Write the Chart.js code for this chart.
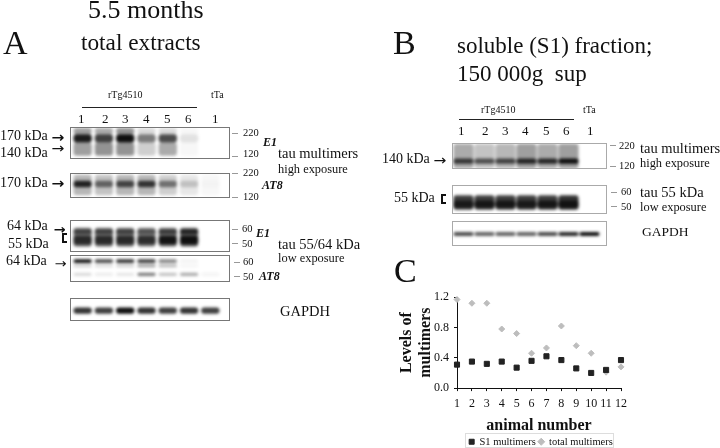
<!DOCTYPE html>
<html>
<head>
<meta charset="utf-8">
<script src="https://cdn.jsdelivr.net/npm/chart.js@4"></script>
<style>
  html, body { margin: 0; padding: 0; background: #fff; }
  #page { position: relative; width: 720px; height: 448px; overflow: hidden; font-family: "Liberation Serif", serif; color: #111; }
  .t { position: absolute; white-space: pre; line-height: 1; transform: translateY(-50%); filter: blur(0.3px); }
  .blot { position: absolute; overflow: hidden; box-sizing: border-box; border: 1px solid #777; background: #fff; }
  .blot canvas { position: absolute; filter: blur(1.5px); }
  .rule { position: absolute; background: #222; height: 1px; }
  .tick { position: absolute; background: #999; height: 1px; width: 6px; }
  .bracket { position: absolute; box-sizing: border-box; width: 5px; height: 10px; border: 2px solid #111; border-right: 0; }
  #legendBox { position: absolute; left: 465px; top: 433px; width: 149px; height: 15px; border: 1px solid #ddd; box-sizing: border-box; }
  #levels { position: absolute; left: 395px; top: 285px; }
</style>
</head>
<body>
<div id="page">
  <div id="legendBox"></div>
  <canvas id="levels" width="292" height="172"></canvas>
</div>
<script>
// panel C values
const animals = [1, 2, 3, 4, 5, 6, 7, 8, 9, 10, 11, 12];
const s1Multimers = [0.31, 0.35, 0.32, 0.35, 0.27, 0.36, 0.42, 0.37, 0.26, 0.20, 0.24, 0.37];
const totalMultimers = [1.17, 1.12, 1.12, 0.78, 0.72, 0.46, 0.53, 0.82, 0.56, 0.46, 0.21, 0.28];
const yTicks = [0, 0.2, 0.4, 0.6, 0.8, 1.0, 1.2];

// blot lanes and band darkness per lane (6 rTg4510 + 1 tTa)
const lanes = ['1', '2', '3', '4', '5', '6', 'tTa'];
const e1HighSmear = [0.4, 0.35, 0.45, 0.15, 0.15, 0.03, 0];
const e1HighMain = [0.95, 0.8, 1, 0.55, 0.75, 0.12, 0];
const e1HighLower = [0.4, 0.45, 0.45, 0.2, 0.35, 0.03, 0];
const at8HighSmear = [0.3, 0.25, 0.3, 0.3, 0.2, 0.1, 0.03];
const at8HighMain = [0.9, 0.55, 0.7, 0.8, 0.5, 0.18, 0.02];
const e1LowSmear = [0.55, 0.55, 0.55, 0.5, 0.55, 0.6, 0];
const e1LowUpper = [0.55, 0.55, 0.55, 0.45, 0.6, 0.8, 0];
const e1LowLower = [0.75, 0.75, 0.75, 0.75, 0.95, 1, 0];
const at8Low64 = [1, 0.75, 0.85, 0.8, 0.5, 0.05, 0];
const at8LowMid = [0.2, 0.15, 0.2, 0.4, 0.3, 0.05, 0];
const at8Low55 = [0.15, 0.08, 0.1, 0.55, 0.25, 0.35, 0.05];
const gapdhLeft = [0.85, 0.8, 1, 0.85, 0.8, 0.85, 0.8];
const s1HighSmear = [0.35, 0.25, 0.3, 0.4, 0.35, 0.4, 0];
const s1HighMain = [0.75, 0.65, 0.7, 0.85, 0.85, 1, 0];
const s1LowSmear = [0.8, 0.8, 0.8, 0.8, 0.8, 0.85, 0];
const s1LowCore = [0.8, 0.85, 0.85, 0.8, 0.85, 0.9, 0];
const gapdhRight = [0.75, 0.65, 0.65, 0.65, 0.75, 0.9, 1];

const page = document.getElementById('page');

function text(str, x, y, size, extra) {
  const d = document.createElement('div');
  d.className = 't';
  d.textContent = str;
  d.style.left = x + 'px';
  d.style.top = y + 'px';
  d.style.fontSize = size + 'px';
  if (extra) Object.assign(d.style, extra);
  page.appendChild(d);
}
function rule(x, y, w) {
  const d = document.createElement('div');
  d.className = 'rule';
  d.style.cssText = 'left:' + x + 'px;top:' + y + 'px;width:' + w + 'px';
  page.appendChild(d);
}
function tick(x, y) {
  const d = document.createElement('div');
  d.className = 'tick';
  d.style.cssText = 'left:' + x + 'px;top:' + y + 'px';
  page.appendChild(d);
}
function bracket(x, y) {
  const d = document.createElement('div');
  d.className = 'bracket';
  d.style.cssText = 'left:' + x + 'px;top:' + y + 'px';
  page.appendChild(d);
}

// one blot = a small floating bar chart, lanes on x, apparent kDa on y
function blot(box, yMin, yMax, bands) {
  const wrap = document.createElement('div');
  wrap.className = 'blot';
  wrap.style.cssText = 'left:' + box.x + 'px;top:' + box.y + 'px;width:' + box.w + 'px;height:' + box.h + 'px;border-color:' + box.line;
  const c = document.createElement('canvas');
  c.width = box.laneW * lanes.length;
  c.height = box.h;
  c.style.left = box.pad + 'px';
  c.style.top = '-1px';
  wrap.appendChild(c);
  page.appendChild(wrap);
  new Chart(c, {
    type: 'bar',
    data: {
      labels: lanes,
      datasets: bands.map(b => ({
        data: b.levels.map(() => b.range),
        backgroundColor: b.levels.map(v => 'rgba(15,15,15,' + v + ')'),
        categoryPercentage: 1,
        barPercentage: box.bar,
        borderRadius: 3,
        borderSkipped: false,
        grouped: false
      }))
    },
    options: {
      responsive: false,
      animation: false,
      events: [],
      layout: { padding: 0 },
      plugins: { legend: { display: false }, tooltip: { enabled: false } },
      scales: {
        x: { display: false },
        y: { display: false, min: yMin, max: yMax }
      }
    }
  });
}

const leftBox = (y, h) => ({ x: 70, y: y, w: 160, h: h, laneW: 21.3, pad: 1, bar: 0.86, line: '#777' });
const rightBox = (y, h) => ({ x: 452, y: y, w: 155, h: h, laneW: 21, pad: 0, bar: 0.96, line: '#aaa' });

blot(leftBox(127, 32), 116, 245, [
  { range: [216, 241], levels: e1HighSmear },
  { range: [129, 183], levels: e1HighLower },
  { range: [183, 216], levels: e1HighMain }
]);
blot(leftBox(173, 25), 116, 224, [
  { range: [128, 216], levels: at8HighSmear },
  { range: [162, 190], levels: at8HighMain }
]);
blot(leftBox(220, 32), 44.3, 66.4, [
  { range: [48, 61], levels: e1LowSmear },
  { range: [56.5, 60], levels: e1LowUpper },
  { range: [49.5, 55.5], levels: e1LowLower }
]);
blot(leftBox(255, 27), 46.4, 65, [
  { range: [59.5, 62], levels: at8Low64 },
  { range: [56.5, 58.5], levels: at8LowMid },
  { range: [50.6, 52.8], levels: at8Low55 }
]);
blot(leftBox(298, 23), 0, 100, [
  { range: [32, 59], levels: gapdhLeft }
]);
blot(rightBox(143, 26), 110, 230, [
  { range: [112, 226], levels: s1HighSmear },
  { range: [134, 158], levels: s1HighMain }
]);
blot(rightBox(185, 29), 45, 65, [
  { range: [48, 58], levels: s1LowSmear },
  { range: [49.3, 54.3], levels: s1LowCore }
]);
blot(rightBox(221, 25), 0, 100, [
  { range: [40, 56], levels: gapdhRight }
]);

// headings
text('5.5 months', 88, 10, 26);
text('total extracts', 81, 43, 23.3);
text('A', 3, 43, 34);
text('B', 393, 43, 34);
text('C', 394, 271, 34);
text('soluble (S1) fraction;', 457, 45, 23);
text('150 000g  sup', 457, 73, 23);

// left group labels
text('rTg4510', 108, 95, 10);
rule(82, 107, 115);
text('tTa', 211, 95, 10);
['1', '2', '3', '4', '5', '6'].forEach((s, i) => text(s, [78, 102, 122, 143, 164, 185][i], 118, 13));
text('1', 212, 118, 13);

const arrow = { fontWeight: 'bold', fontFamily: 'DejaVu Sans', transform: 'translateY(-50%) scaleX(1.1)' };
const thinArrow = { fontFamily: 'DejaVu Sans', transform: 'translateY(-50%) scaleX(1.1)' };
text('170 kDa', 0, 136, 14);
text('140 kDa', 0, 153, 14);
text('→', 52, 137, 14, arrow);
text('→', 52, 148, 14, thinArrow);
text('170 kDa', 0, 183, 14);
text('→', 52, 183, 14, arrow);
text('64 kDa', 7, 226, 14);
text('55 kDa', 8, 244, 14);
text('→', 54, 229, 13, arrow);
bracket(62, 233);
text('64 kDa', 6, 261, 14);
text('→', 55, 263, 13, thinArrow);

[[232, 133], [232, 156], [232, 173], [232, 197], [232, 229], [232, 243], [234, 262], [234, 276]].forEach(p => tick(p[0], p[1]));
text('220', 243, 133, 10.5);
text('120', 243, 154, 10.5);
text('220', 243, 173, 10.5);
text('120', 243, 197, 10.5);
text('60', 242, 229, 10.5);
text('50', 242, 244, 10.5);
text('60', 243, 262, 10.5);
text('50', 243, 277, 10.5);
const boldItalic = { fontWeight: 'bold', fontStyle: 'italic' };
text('E1', 263, 142, 12, boldItalic);
text('AT8', 262, 185, 12, boldItalic);
text('E1', 256, 233, 12, boldItalic);
text('AT8', 259, 276, 12, boldItalic);
text('tau multimers', 278, 153, 14.5);
text('high exposure', 278, 169, 12.4);
text('tau 55/64 kDa', 278, 244, 14.5);
text('low exposure', 278, 258, 12.4);
text('GAPDH', 280, 311, 14.5);

// right group labels
text('rTg4510', 481, 110, 10);
rule(459, 119, 115);
text('tTa', 583, 110, 10);
['1', '2', '3', '4', '5', '6'].forEach((s, i) => text(s, [458, 482, 502, 522, 543, 563][i], 130, 13));
text('1', 587, 130, 13);
text('140 kDa', 382, 159, 14);
text('→', 434, 160, 14, thinArrow);
text('55 kDa', 394, 198, 14);
bracket(441, 194);
[[610, 145], [610, 166], [611, 192], [611, 206]].forEach(p => tick(p[0], p[1]));
text('220', 619, 146, 10.5);
text('120', 619, 166, 10.5);
text('60', 621, 192, 10.5);
text('50', 621, 207, 10.5);
text('tau multimers', 640, 148, 14.5);
text('high exposure', 640, 163, 12.4);
text('tau 55 kDa', 640, 192, 14.5);
text('low exposure', 640, 207, 12.4);
text('GAPDH', 642, 232, 13.5);

// the legend box in the figure sits to the right of the plot centre
const nudgeLegend = {
  id: 'nudgeLegend',
  afterLayout(chart) {
    chart.legend.left += 33;
    chart.legend.right += 33;
  }
};

// panel C
new Chart(document.getElementById('levels'), {
  type: 'scatter',
  plugins: [nudgeLegend],
  data: {
    datasets: [
      {
        label: 'S1 multimers',
        data: animals.map((a, i) => ({ x: a, y: s1Multimers[i] })),
        pointStyle: 'rect',
        pointRadius: 3.6,
        backgroundColor: '#222',
        borderColor: '#222',
        clip: false
      },
      {
        label: 'total multimers',
        data: animals.map((a, i) => ({ x: a, y: totalMultimers[i] })),
        pointStyle: 'rectRot',
        pointRadius: 3,
        backgroundColor: '#bdbdbd',
        borderColor: '#bdbdbd',
        clip: false
      }
    ]
  },
  options: {
    responsive: false,
    animation: false,
    events: [],
    layout: { padding: { top: 7, right: 66 } },
    plugins: {
      tooltip: { enabled: false },
      legend: {
        position: 'bottom',
        labels: {
          usePointStyle: true,
          boxWidth: 5,
          boxHeight: 5,
          padding: 3,
          color: '#111',
          font: { family: 'Liberation Serif', size: 10.5 }
        }
      }
    },
    scales: {
      x: {
        type: 'linear',
        min: 1,
        max: 12,
        ticks: { stepSize: 1, autoSkip: false, color: '#111', padding: 6, maxRotation: 0, font: { family: 'Liberation Serif', size: 12 } },
        grid: { drawOnChartArea: false, color: '#111', tickLength: 3 },
        border: { color: '#111' },
        title: { display: true, text: 'animal number', color: '#111', padding: { top: 0, bottom: 0 }, font: { family: 'Liberation Serif', size: 16, weight: 'bold', lineHeight: 1 } }
      },
      y: {
        min: 0,
        max: 1.2,
        afterBuildTicks: s => { s.ticks = yTicks.map(v => ({ value: v })); },
        afterFit: s => { s.width = 62; },
        ticks: { callback: v => v.toFixed(1), color: '#111', padding: 5, font: { family: 'Liberation Serif', size: 12 } },
        grid: { drawOnChartArea: false, color: '#111', tickLength: 3 },
        border: { color: '#111' },
        title: { display: true, text: ['Levels of', 'multimers'], color: '#111', padding: { top: 3, bottom: 0 }, font: { family: 'Liberation Serif', size: 16, weight: 'bold', lineHeight: 1.15 } }
      }
    }
  }
});
</script>
</body>
</html>
